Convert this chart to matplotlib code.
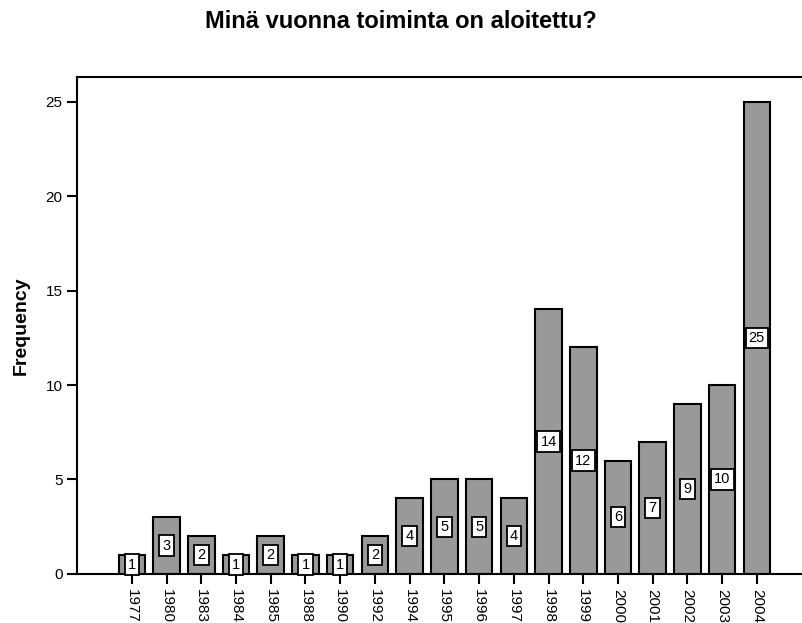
import matplotlib
matplotlib.use('Agg')
import matplotlib.pyplot as plt

plt.rcParams['font.family'] = ['Liberation Sans', 'DejaVu Sans']

# data
years = ['1977', '1980', '1983', '1984', '1985', '1988', '1990', '1992', '1994',
         '1995', '1996', '1997', '1998', '1999', '2000', '2001', '2002', '2003', '2004']
counts = [1, 3, 2, 1, 2, 1, 1, 2, 4, 5, 5, 4, 14, 12, 6, 7, 9, 10, 25]

fig = plt.figure(figsize=(8.02, 6.23), dpi=100)
ax = fig.add_axes([0.096, 0.0787, 0.904, 0.7977])

pos = list(range(len(years)))
ax.bar(pos, counts, width=0.765, color='#999999', edgecolor='black', linewidth=1.5, zorder=2)

# value boxes in the middle of each bar
for x, c in zip(pos, counts):
    ax.text(x, c / 2, str(c), ha='center', va='center', fontsize=10.5, zorder=3,
            bbox=dict(boxstyle='square,pad=0.22', facecolor='white', edgecolor='black', linewidth=1.3))

ax.set_xlim(-1.58, 19.3)
ax.set_ylim(0, 26.3)
ax.set_xticks(pos)
ax.set_xticklabels(years, rotation=270, fontsize=11)
ax.set_yticks([0, 5, 10, 15, 20, 25])
ax.tick_params(axis='both', direction='out', length=7, width=1.5, labelsize=11)
ax.tick_params(axis='x', pad=4)

for s in ['left', 'top', 'bottom']:
    ax.spines[s].set_linewidth(1.5)
ax.spines['right'].set_visible(False)

ax.set_ylabel('Frequency', fontsize=14, fontweight='bold', labelpad=11)
fig.suptitle('Minä vuonna toiminta on aloitettu?', fontsize=17, fontweight='bold',
             x=0.5, y=0.965, va='center')

plt.savefig('out.png', dpi=100)
